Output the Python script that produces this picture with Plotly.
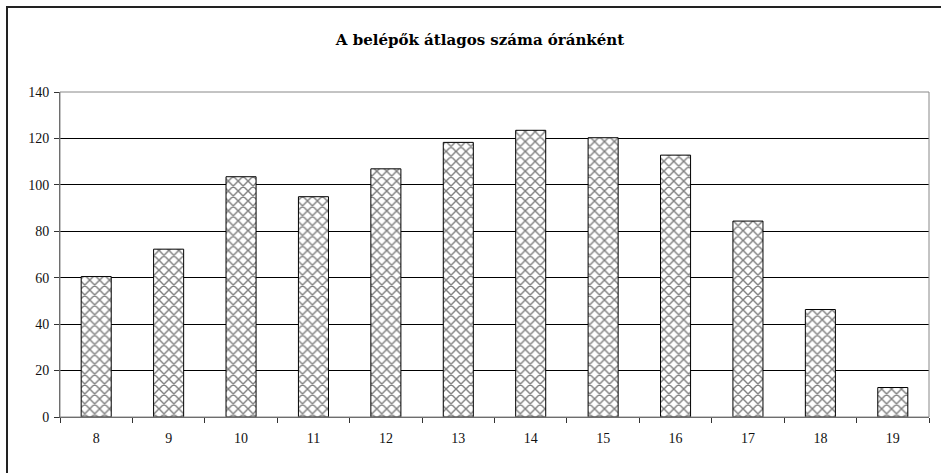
import plotly.graph_objects as go

# Average number of entries per hour
hours = ["8", "9", "10", "11", "12", "13", "14", "15", "16", "17", "18", "19"]
avg_entries = [60.5, 72.3, 103.5, 94.9, 106.9, 118.3, 123.5, 120.3, 112.8, 84.4, 46.3, 12.7]
y_ticks = [0, 20, 40, 60, 80, 100, 120, 140]

SERIF = "Liberation Serif"
TITLE_FONT = "DejaVu Serif"

fig = go.Figure(
    go.Bar(
        x=hours,
        y=avg_entries,
        marker=dict(
            color="white",
            line=dict(color="black", width=1),
            pattern=dict(shape="x", fgcolor="black", bgcolor="white", size=7, solidity=0.36),
        ),
        hoverinfo="x+y",
    )
)

fig.update_layout(
    width=941,
    height=473,
    margin=dict(l=60, r=12, t=92, b=56),
    paper_bgcolor="white",
    plot_bgcolor="white",
    bargap=0.585,
    showlegend=False,
    title=dict(
        text="<b>A belépők átlagos száma óránként</b>",
        x=480 / 941,
        xanchor="center",
        y=1 - 40 / 473,
        yanchor="middle",
        font=dict(family=TITLE_FONT, size=15, color="black"),
    ),
    font=dict(family=SERIF, size=14, color="black"),
)

fig.update_xaxes(
    type="category",
    showline=True,
    linecolor="#555",
    linewidth=1,
    mirror=False,
    ticks="outside",
    tickson="boundaries",
    ticklen=5,
    tickcolor="#333",
    showgrid=False,
    ticklabelstandoff=8,
    tickfont=dict(family=SERIF, size=14, color="#111"),
)

fig.update_yaxes(
    range=[0, 140],
    tickvals=y_ticks,
    showline=True,
    linecolor="#555",
    linewidth=1,
    ticks="outside",
    ticklen=5,
    tickcolor="#333",
    showgrid=True,
    gridcolor="black",
    gridwidth=1,
    zeroline=False,
    ticklabelstandoff=2,
    tickfont=dict(family=SERIF, size=14, color="#111"),
)

# plot-area frame (top and right edges) in grey
fig.add_shape(type="rect", xref="paper", yref="paper", x0=0, x1=1, y0=0, y1=1,
              line=dict(color="#888", width=1), fillcolor="rgba(0,0,0,0)", layer="above")

# outer chart border
fig.add_shape(type="rect", xref="paper", yref="paper",
              x0=-53 / 869, x1=(941 - 60 + 10) / 869,
              y0=-(473 - 417 + 10) / 325, y1=(417 - 7) / 325,
              line=dict(color="#222", width=2), fillcolor="rgba(0,0,0,0)", layer="above")

fig.write_html("out.html")
